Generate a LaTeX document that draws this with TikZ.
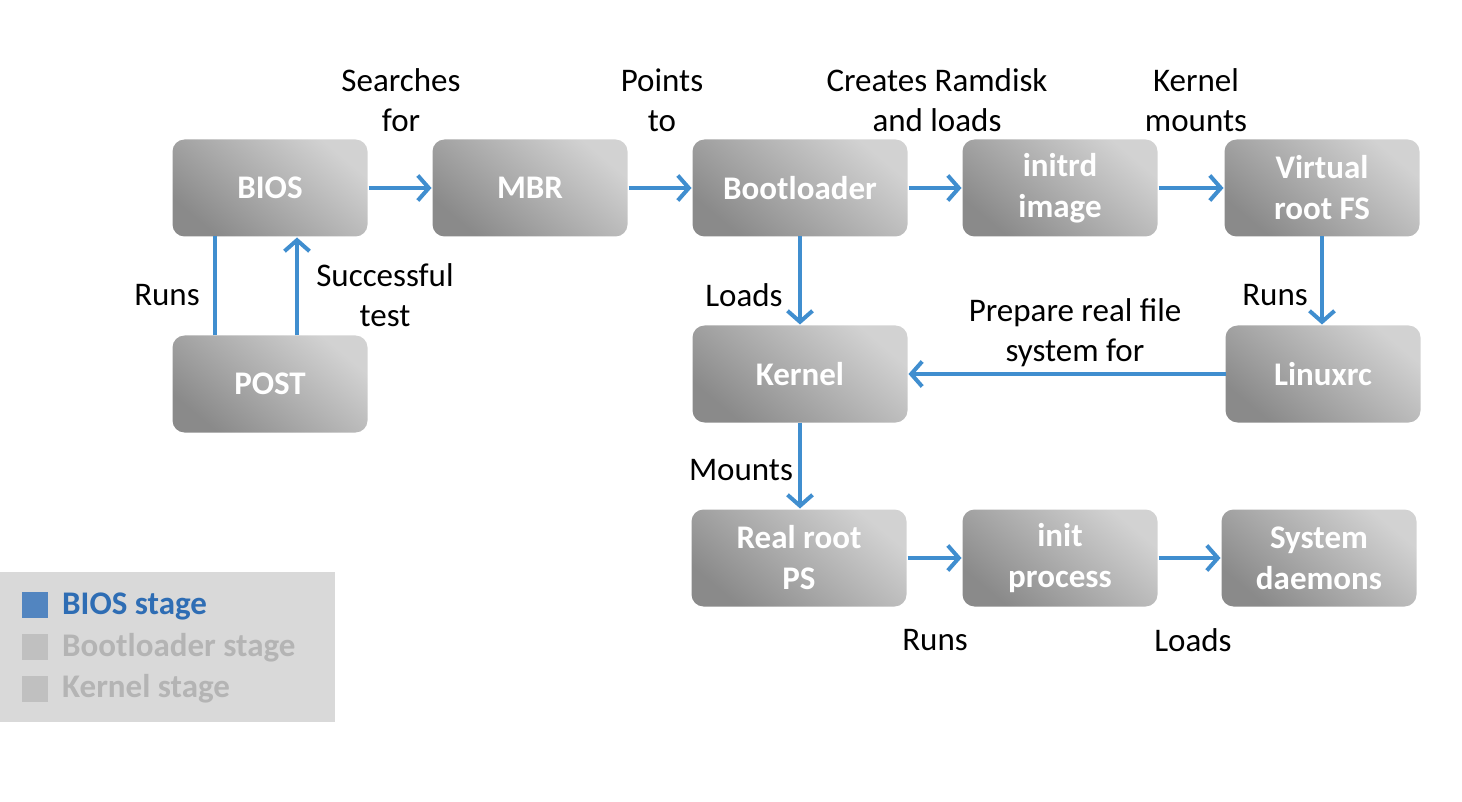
\documentclass[tikz,border=0pt]{standalone}
\usepackage{fontspec}
\setmainfont{Carlito}
\usetikzlibrary{arrows.meta}
\definecolor{arrowblue}{RGB}{64,142,207}
\definecolor{boxlight}{RGB}{210,210,210}
\definecolor{boxdark}{RGB}{138,138,138}
\definecolor{legendbg}{RGB}{217,217,217}
\definecolor{legendblue}{RGB}{46,109,180}
\definecolor{legendsq}{RGB}{82,133,192}
\definecolor{legendgray}{RGB}{180,180,180}
\definecolor{legendgraysq}{RGB}{192,192,192}
\begin{document}
\begin{tikzpicture}[x=1pt,y=-1pt,
  box/.style={rounded corners=12pt, minimum width=195pt, minimum height=97pt,
    inner sep=0pt, outer sep=0pt, top color=boxlight, bottom color=boxdark,
    shading angle=-40, text=white, align=center,
    font=\fontsize{33}{41}\selectfont\bfseries},
  widebox/.style={box, minimum width=215pt},
  lbl/.style={inner sep=0pt, align=center, font=\fontsize{33}{40}\selectfont},
  conn/.style={draw=arrowblue, line width=4pt},
  arr/.style={conn, -{Straight Barb[length=11pt,width=25pt]}, shorten >=1pt, shorten <=1pt},
  legtext/.style={inner sep=0pt, anchor=west, font=\fontsize{33}{36}\selectfont\bfseries},
  legsq/.style={minimum size=26pt, inner sep=0pt}
]
\useasboundingbox (0,0) rectangle (1462,802);

% boxes
\node[box] (bios) at (270,188) {BIOS};
\node[box] (mbr) at (530,188) {MBR};
\node[widebox] (boot) at (800,188) {Bootloader};
\node[box] (initrd) at (1060,188) {initrd\\image};
\node[box] (vroot) at (1322,188) {Virtual\\root FS};
\node[box] (post) at (270,384) {POST};
\node[widebox] (kernel) at (800,374) {Kernel};
\node[box] (linuxrc) at (1323,374) {Linuxrc};
\node[widebox] (realroot) at (799,558) {Real root\\PS};
\node[box] (init) at (1060,558) {init\\process};
\node[box] (daemons) at (1319,558) {System\\daemons};

% connectors
\draw[arr] (bios) -- (mbr);
\draw[arr] (mbr) -- (boot);
\draw[arr] (boot) -- (initrd);
\draw[arr] (initrd) -- (vroot);
\draw[conn] ([xshift=-55pt]post.north) -- ([xshift=-55pt]bios.south);
\draw[arr, shorten <=0pt] ([xshift=27pt]post.north) -- ([xshift=27pt]bios.south);
\draw[arr, shorten <=0pt] (boot.south) -- (boot.south |- kernel.north);
\draw[arr, shorten <=0pt] (vroot.south) -- (vroot.south |- linuxrc.north);
\draw[arr, shorten <=0pt] (linuxrc) -- (kernel);
\draw[arr, shorten <=0pt] (kernel.south) -- (kernel.south |- realroot.north);
\draw[arr] (realroot) -- (init);
\draw[arr] (init) -- (daemons);

% labels
\node[lbl] (l1) at (401,100) {Searches\\for};
\node[lbl] (l2) at (662,100) {Points\\to};
\node[lbl] (l3) at (937,100) {Creates Ramdisk\\and loads};
\node[lbl] (l4) at (1196,100) {Kernel\\mounts};
\node[lbl] (l5) at (167,295) {Runs};
\node[lbl] (l6) at (385,295) {Successful\\test};
\node[lbl] (l7) at (744,295) {Loads};
\node[lbl] (l8) at (1075,333) {Prepare real file\\system for};
\node[lbl] (l9) at (1275,295) {Runs};
\node[lbl] (l10) at (741,470) {Mounts};
\node[lbl] (l11) at (935,640) {Runs};
\node[lbl] (l12) at (1193,640) {Loads};

% legend
\fill[legendbg] (0,572) rectangle (335,722);
\node[legsq, fill=legendsq] (sq1) at (35,605) {};
\node[legsq, fill=legendgraysq] (sq2) at (35,647) {};
\node[legsq, fill=legendgraysq] (sq3) at (35,689) {};
\node[legtext, text=legendblue] (t1) at (62,606) {BIOS stage};
\node[legtext, text=legendgray] (t2) at (62,648) {Bootloader stage};
\node[legtext, text=legendgray] (t3) at (62,689) {Kernel stage};
\end{tikzpicture}
\end{document}
